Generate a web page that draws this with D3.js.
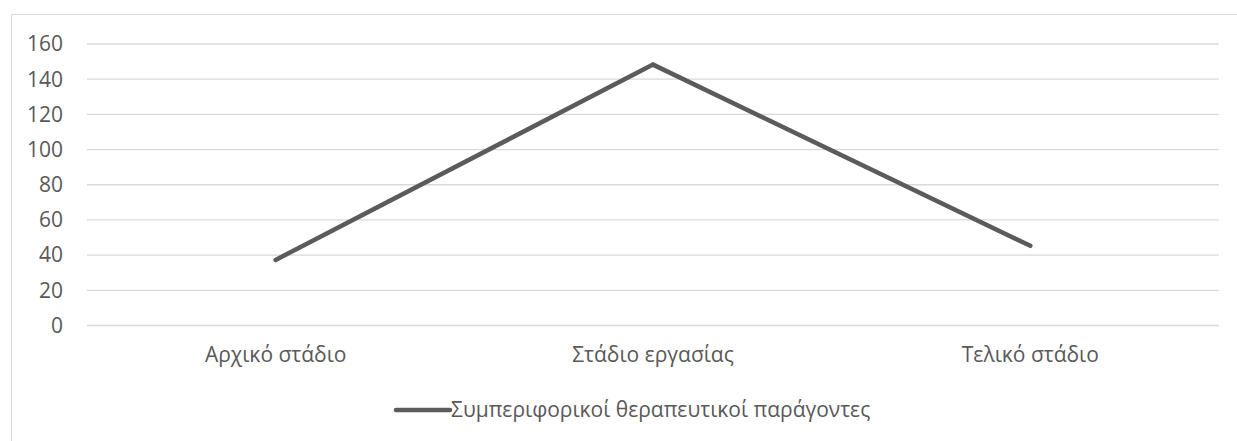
<!DOCTYPE html>
<html><head><meta charset="utf-8">
<script src="https://cdn.jsdelivr.net/npm/d3@7"></script>
<style>
html,body{margin:0;padding:0;background:#fff;}
svg{display:block;font-family:"Open Sans",sans-serif;}
</style></head>
<body>
<svg id="c" width="1237" height="441"></svg>
<script>
const categories = ["Αρχικό στάδιο", "Στάδιο εργασίας", "Τελικό στάδιο"];
const seriesName = "Συμπεριφορικοί θεραπευτικοί παράγοντες";
const values = [37, 148, 45];
const yTicks = [0, 20, 40, 60, 80, 100, 120, 140, 160];

const svg = d3.select("#c");
const W = 1237, H = 441;
const m = {left: 87, right: 1219, top: 43.5, bottom: 325};
const textColor = "#595959";
const fs = "21px";

// chart border
svg.append("rect").attr("x", 11.5).attr("y", 14.5).attr("width", W).attr("height", H)
  .attr("fill", "none").attr("stroke", "#d9d9d9").attr("stroke-width", 1);

const x = d3.scaleBand().domain(categories).range([m.left, m.right]);
const y = d3.scaleLinear().domain([0, 160]).range([m.bottom, m.top]);

// gridlines
const yAxis = d3.axisLeft(y).tickValues(yTicks).tickSize(-(m.right - m.left)).tickPadding(24);
const gy = svg.append("g").attr("transform", `translate(${m.left},0)`).call(yAxis);
gy.select(".domain").remove();
gy.selectAll(".tick line").attr("stroke", "#d9d9d9").attr("stroke-width", 1.3);
gy.selectAll(".tick text").attr("fill", textColor).style("font-size", fs)
  .style("font-family", "'Open Sans', sans-serif").attr("dy", "0.35em");

// category axis
const xAxis = d3.axisBottom(x).tickSize(0).tickPadding(22);
const gx = svg.append("g").attr("transform", `translate(0,${m.bottom})`).call(xAxis);
gx.select(".domain").remove();
gx.selectAll(".tick text").attr("fill", textColor).style("font-size", fs)
  .style("font-family", "'Open Sans', sans-serif");

// line
const line = d3.line()
  .x((d, i) => x(categories[i]) + x.bandwidth() / 2)
  .y(d => y(d));
svg.append("path").datum(values).attr("d", line)
  .attr("fill", "none").attr("stroke", "#5b5b5b").attr("stroke-width", 4.5)
  .attr("stroke-linecap", "round").attr("stroke-linejoin", "miter");

// legend
const lg = svg.append("g").attr("transform", "translate(396,410)");
lg.append("line").attr("x1", 0).attr("x2", 54).attr("y1", 0).attr("y2", 0)
  .attr("stroke", "#5b5b5b").attr("stroke-width", 4.5).attr("stroke-linecap", "round");
lg.append("text").attr("x", 55).attr("y", 0).attr("dy", "0.35em")
  .attr("fill", textColor).style("font-size", fs).text(seriesName);
</script>
</body></html>
